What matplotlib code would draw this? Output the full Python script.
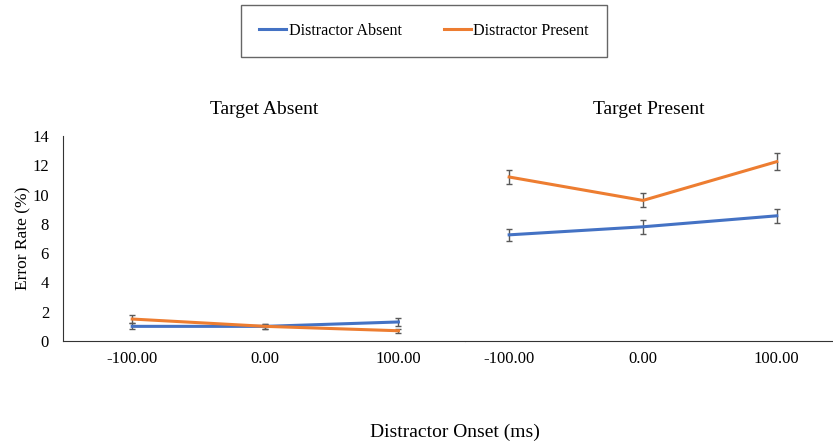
import matplotlib.pyplot as plt
from matplotlib.lines import Line2D

plt.rcParams['font.family'] = ['Liberation Serif', 'DejaVu Serif']

# Data
onsets = ['-100.00', '0.00', '100.00']
panels = ['Target Absent', 'Target Present']

absent_ta = [1.0, 1.0, 1.3]
absent_ta_err = [0.2, 0.15, 0.25]
present_ta = [1.5, 1.0, 0.7]
present_ta_err = [0.27, 0.15, 0.15]

absent_tp = [7.25, 7.8, 8.55]
absent_tp_err = [0.4, 0.48, 0.47]
present_tp = [11.2, 9.6, 12.25]
present_tp_err = [0.5, 0.48, 0.6]

BLUE = '#4472C4'
ORANGE = '#ED7D31'
ERR = '#595959'

W, H = 833, 444
fig = plt.figure(figsize=(W / 100, H / 100), dpi=100)

bottom = (H - 341) / H
height = (341 - 136) / H
ax1 = fig.add_axes([63 / W, bottom, (465 - 63) / W, height])
ax2 = fig.add_axes([465 / W, bottom, (833 - 465) / W, height], sharey=ax1)

x = range(len(onsets))

def draw(ax, absent, absent_err, present, present_err, title):
    ax.errorbar(x, absent, yerr=absent_err, color=BLUE, lw=2.2, ecolor=ERR,
                elinewidth=1, capsize=2.5, zorder=3)
    ax.errorbar(x, present, yerr=present_err, color=ORANGE, lw=2.2, ecolor=ERR,
                elinewidth=1, capsize=2.5, zorder=3)
    ax.set_xticks(list(x))
    ax.set_xticklabels(onsets, fontsize=12)
    ax.tick_params(axis='x', length=0, pad=7)
    for s in ['top', 'right']:
        ax.spines[s].set_visible(False)
    ax.spines['bottom'].set_color('#333333')
    ax.set_title(title, fontsize=14, pad=16)

draw(ax1, absent_ta, absent_ta_err, present_ta, present_ta_err, panels[0])
draw(ax2, absent_tp, absent_tp_err, present_tp, present_tp_err, panels[1])

ax1.set_xlim(-0.52, 2.5)
ax2.set_xlim(-0.33, 2.42)
ax1.set_ylim(0, 14)
ax1.set_yticks(range(0, 15, 2))
ax1.tick_params(axis='y', length=0, labelsize=12, pad=10)
ax1.spines['left'].set_color('#333333')
ax1.set_ylabel('Error Rate (%)', fontsize=12.5, labelpad=1)

ax2.spines['left'].set_visible(False)
ax2.tick_params(axis='y', left=False, labelleft=False)

fig.text(455 / W, 1 - 432 / H, 'Distractor Onset (ms)', ha='center', va='center', fontsize=14)

handles = [Line2D([], [], color=BLUE, lw=2.2), Line2D([], [], color=ORANGE, lw=2.2)]
labels = ['Distractor Absent', 'Distractor Present']
leg = fig.legend(handles, labels, loc='center', bbox_to_anchor=(424 / W, 1 - 31 / H),
                 ncol=2, fontsize=11.6, frameon=True, fancybox=False,
                 handlelength=1.7, handletextpad=0.15, columnspacing=2.6,
                 borderpad=1.1, borderaxespad=0)
leg.get_frame().set_edgecolor('#404040')
leg.get_frame().set_linewidth(1)

fig.savefig('out.png', dpi=100)
